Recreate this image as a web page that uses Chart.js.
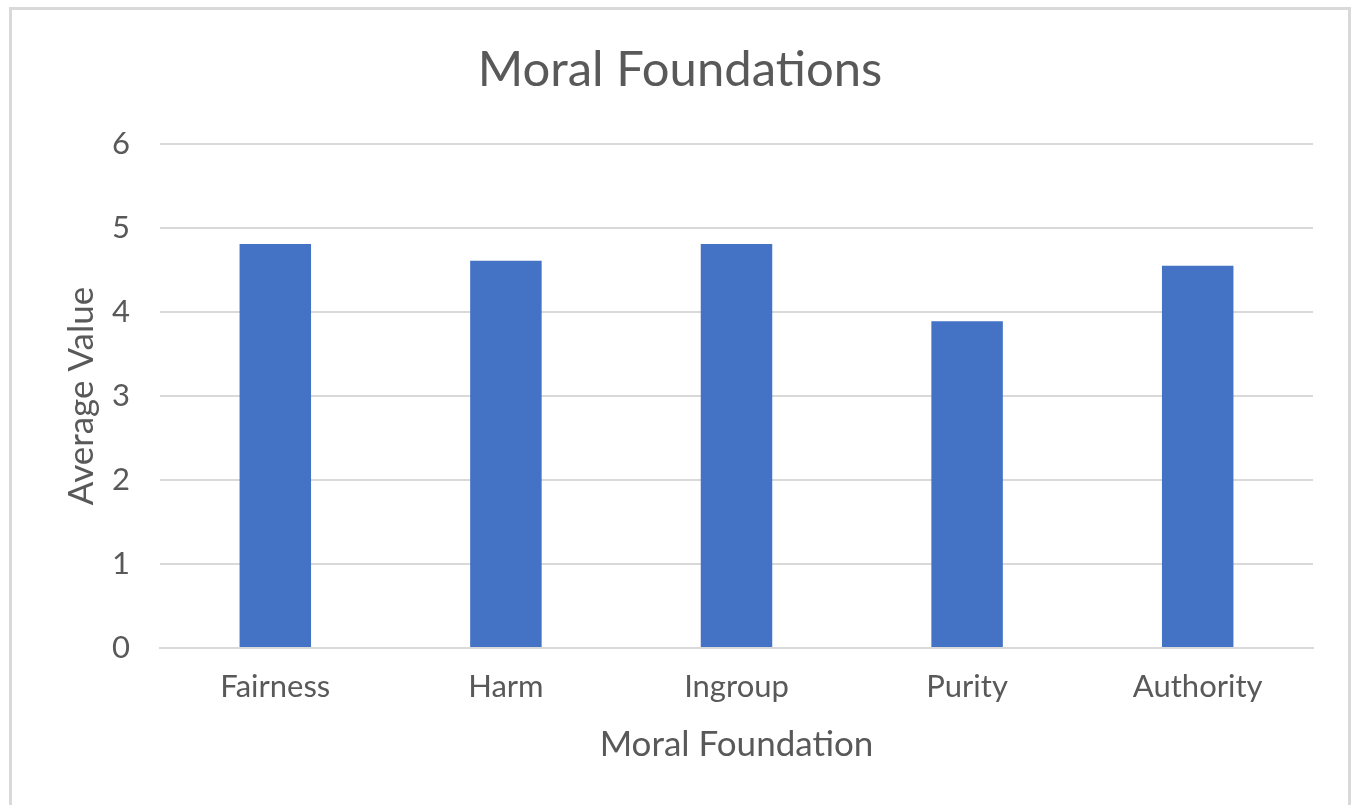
<!DOCTYPE html>
<html>
<head>
<meta charset="utf-8">
<script src="https://cdn.jsdelivr.net/npm/chart.js@4"></script>
<style>
html,body{margin:0;padding:0;background:#fff;}
#wrap{position:absolute;left:0;top:0;width:1354px;height:805px;}
</style>
</head>
<body>
<div id="wrap"><canvas id="c" width="1354" height="805"></canvas></div>
<script>
const categories = ["Fairness", "Harm", "Ingroup", "Purity", "Authority"];
const averageValues = [4.81, 4.61, 4.81, 3.89, 4.55];
const yTicks = [0, 1, 2, 3, 4, 5, 6];
const chartTitle = "Moral Foundations";

const FONT = "Lato, 'Open Sans', sans-serif";
const TXT = "#595959";

const framePlugin = {
  id: "frameAndTitle",
  beforeDraw(chart) {
    const ctx = chart.ctx;
    ctx.save();
    ctx.fillStyle = "#fff";
    ctx.fillRect(0, 0, chart.width, chart.height);
    ctx.strokeStyle = "#d9d9d9";
    ctx.lineWidth = 3;
    ctx.strokeRect(10.5, 8.5, 1339, 810);
    ctx.restore();
  },
  afterDraw(chart) {
    const ctx = chart.ctx;
    ctx.save();
    ctx.fillStyle = TXT;
    ctx.font = "49px " + FONT;
    ctx.textAlign = "center";
    ctx.textBaseline = "middle";
    ctx.fillText(chartTitle, 680, 70);
    ctx.restore();
  }
};

new Chart(document.getElementById("c"), {
  type: "bar",
  data: {
    labels: categories,
    datasets: [{
      label: "Average Value",
      data: averageValues,
      backgroundColor: "#4472C4",
      borderWidth: 0,
      barPercentage: 0.31,
      categoryPercentage: 1.0
    }]
  },
  plugins: [framePlugin],
  options: {
    responsive: false,
    animation: false,
    devicePixelRatio: 1,
    layout: { padding: { left: 0, right: 41, top: 144, bottom: 0 } },
    plugins: {
      legend: { display: false },
      tooltip: { enabled: false },
      title: { display: false }
    },
    scales: {
      x: {
        grid: { display: false, drawTicks: false },
        border: { display: true, color: "#d9d9d9", width: 2 },
        ticks: { color: TXT, font: { family: FONT, size: 31 }, padding: 20, maxRotation: 0 },
        title: {
          display: true,
          text: "Moral Foundation",
          color: TXT,
          font: { family: FONT, size: 35 },
          padding: { top: 0, bottom: 39 }
        },
        afterFit(scale) { scale.height = 157; }
      },
      y: {
        min: 0,
        max: 6,
        afterBuildTicks(scale) { scale.ticks = yTicks.map(v => ({ value: v })); },
        grid: { color: "#d9d9d9", lineWidth: 2, drawTicks: false },
        border: { display: false },
        ticks: { color: TXT, font: { family: FONT, size: 31 }, padding: 30 },
        title: {
          display: true,
          text: "Average Value",
          color: TXT,
          font: { family: FONT, size: 35 },
          padding: { top: 61, bottom: 0 }
        },
        afterFit(scale) { scale.width = 160; }
      }
    }
  }
});
</script>
</body>
</html>
